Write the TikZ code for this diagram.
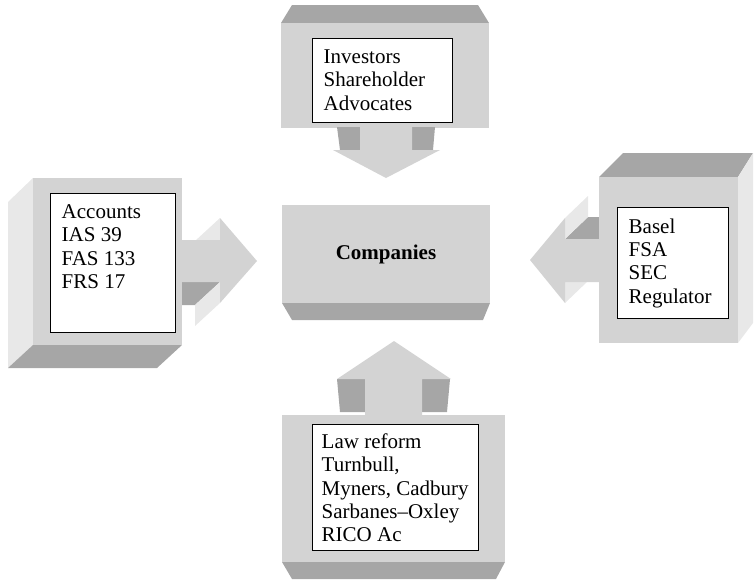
\documentclass[tikz,border=0pt]{standalone}
\usepackage{fontspec}
\setmainfont{Liberation Serif}
\definecolor{facegray}{RGB}{211,211,211}
\definecolor{shadegray}{RGB}{166,166,166}
\definecolor{sidegray}{RGB}{232,232,232}
\begin{document}
\begin{tikzpicture}[x=1pt,y=-1pt,font=\fontsize{21}{23.3}\selectfont]
		\tikzstyle{face}=[fill=facegray]
		\tikzstyle{shade}=[fill=shadegray]
		\tikzstyle{side}=[fill=sidegray]
		\tikzstyle{txtbox}=[draw,fill=white,line width=1.4pt,anchor=north west,inner xsep=11pt,inner ysep=11pt]
		\useasboundingbox (0,0) rectangle (754,581);

		\begin{scope}% investors, on top
			\fill[shade] (281,23) -- (292,5) -- (478,5) -- (489,23) -- cycle;
			\fill[face] (281,23) rectangle (489,128);
			\fill[shade] (337,127) -- (360,127) -- (360,150) -- (340,150) -- cycle;
			\fill[shade] (412,127) -- (435,127) -- (433,150) -- (412,150) -- cycle;
			\fill[face] (360,127) -- (412,127) -- (412,150) -- (440,150) -- (386,178) -- (333,150) -- (360,150) -- cycle;
			\node[txtbox] (inv) at (312,38) {\parbox[c][62pt][t]{118pt}{\raggedright Investors\\Shareholder\\Advocates}};
		\end{scope}

		\begin{scope}% accounts, on the left
			\fill[side] (220,218) -- (220,240) -- (195,263) -- (195,241) -- cycle;
			\fill[shade] (220,282) -- (182,282) -- (157,305) -- (195,305) -- cycle;
			\fill[side] (220,303) -- (220,282) -- (195,305) -- (195,326) -- cycle;
			\fill[face] (182,240) -- (220,240) -- (220,218) -- (257,261) -- (220,303) -- (220,282) -- (182,282) -- cycle;
			\fill[side] (8,202) -- (33,178) -- (33,345) -- (8,368) -- cycle;
			\fill[shade] (33,345) -- (182,345) -- (157,368) -- (8,368) -- cycle;
			\fill[face] (33,178) rectangle (182,345);
			\node[txtbox] (acc) at (50,193) {\parbox[c][117pt][t]{103pt}{\raggedright Accounts\\IAS 39\\FAS 133\\FRS 17}};
		\end{scope}

		\begin{scope}% regulators, on the right
			\fill[shade] (599,239) -- (565,239) -- (588,217) -- (622,217) -- cycle;
			\fill[side] (565,239) -- (565,218) -- (588,196) -- (588,217) -- cycle;
			\fill[side] (565,303) -- (565,282) -- (588,260) -- (588,281) -- cycle;
			\fill[face] (599,239) -- (565,239) -- (565,218) -- (530,260) -- (565,303) -- (565,282) -- (599,282) -- cycle;
			\fill[shade] (599,177) -- (623,153) -- (753,153) -- (738,177) -- cycle;
			\fill[side] (738,177) -- (753,153) -- (753,323) -- (738,343) -- cycle;
			\fill[face] (599,177) rectangle (738,343);
			\node[txtbox] (reg) at (617,207) {\parbox[c][89pt][t]{89pt}{\raggedright Basel\\FSA\\SEC\\Regulator}};
		\end{scope}

		\begin{scope}% companies, in the middle
			\fill[shade] (282,303) -- (490,303) -- (483,320) -- (292,320) -- cycle;
			\node[face,minimum width=208pt,minimum height=98pt,inner sep=0pt] (comp) at (386,254) {\textbf{Companies}};
		\end{scope}

		\begin{scope}% law reform, at the bottom
			\fill[shade] (337,379) -- (365,379) -- (365,412) -- (340,412) -- cycle;
			\fill[shade] (422,379) -- (450,379) -- (447,412) -- (422,412) -- cycle;
			\fill[face] (365,416) -- (365,379) -- (337,379) -- (394,341) -- (451,379) -- (422,379) -- (422,416) -- cycle;
			\fill[shade] (282,562) -- (505,562) -- (496,579) -- (292,579) -- cycle;
			\fill[face] (282,415) rectangle (505,562);
			\node[txtbox,inner xsep=9pt,inner ysep=9pt] (law) at (312,424) {\parbox[c][108pt][t]{148pt}{\raggedright Law reform\\Turnbull,\\Myners, Cadbury\\Sarbanes--Oxley\\RICO Ac}};
		\end{scope}
	\end{tikzpicture}
\end{document}
